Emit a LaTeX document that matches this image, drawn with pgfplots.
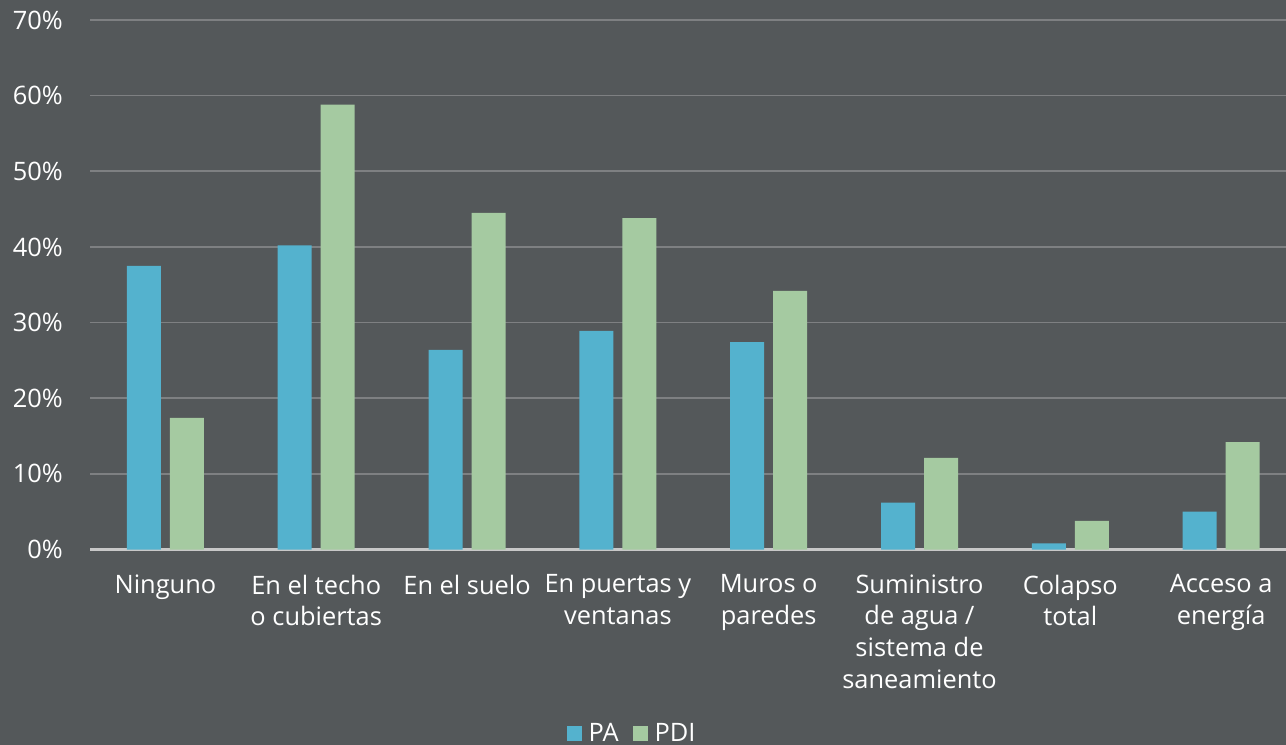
\documentclass[border=0pt]{standalone}
\usepackage{pgfplots}
\pgfplotsset{compat=1.18}
\usepackage{fontspec}
\setmainfont{Open Sans}
\definecolor{bg}{RGB}{84,88,90}
\definecolor{pablue}{RGB}{84,178,206}
\definecolor{pdigreen}{RGB}{165,202,161}
\definecolor{gridc}{RGB}{126,128,130}
\definecolor{zeroc}{RGB}{200,200,200}
\begin{document}
\begin{tikzpicture}
\fill[bg] (0,0) rectangle (1286bp,745bp);
\begin{axis}[
  at={(90bp,195.5bp)}, anchor=south west,
  scale only axis, width=1196bp, height=529.5bp,
  xmin=-0.5, xmax=7.43, ymin=0, ymax=70,
  axis line style={draw=none},
  major tick length=0pt, tick style={draw=none},
  ymajorgrids, grid style={gridc, line width=1.6bp},
  ytick={0,10,20,30,40,50,60,70},
  yticklabels={0\%,10\%,20\%,30\%,40\%,50\%,60\%,70\%},
  yticklabel style={font=\fontsize{25.5}{30}\selectfont, text=white, inner sep=0pt, xshift=-27bp},
  xtick={0,1,2,3,4,5,6,7},
  xticklabels={Ninguno, En el techo\\o cubiertas, En el suelo, En puertas y\\ventanas, Muros o\\paredes, Suministro\\de agua /\\sistema de\\saneamiento, Colapso\\total, Acceso a\\energía},
  xticklabel style={font=\fontsize{25.5}{31.7}\selectfont, text=white, align=center, inner sep=0pt, anchor=north, yshift=-25bp},
  extra y ticks={0}, extra y tick labels={},
  extra y tick style={grid style={zeroc, line width=2bp}},
  ybar, bar width=34bp,
  legend style={at={(axis description cs:0.4532,-0.3466)}, anchor=center, draw=none, fill=none, text=white, legend columns=2, font=\fontsize{25.5}{30}\selectfont,
    /tikz/every odd column/.append style={column sep=5bp},
    /tikz/every even column/.append style={column sep=12bp}},
  legend image code/.code={\fill[#1] (0bp,-7.5bp) rectangle (15bp,7.5bp);},
]
\addplot[fill=pablue, draw=none, bar shift=-21.5bp] coordinates {(0,37.5) (1,40.2) (2,26.4) (3,28.9) (4,27.4) (5,6.2) (6,0.8) (7,5.0)};
\addlegendentry{PA}
\addplot[fill=pdigreen, draw=none, bar shift=21.5bp] coordinates {(0,17.4) (1,58.8) (2,44.5) (3,43.8) (4,34.2) (5,12.1) (6,3.8) (7,14.2)};
\addlegendentry{PDI}
\end{axis}
\pgfresetboundingbox
\useasboundingbox (0,0) rectangle (1286bp,745bp);
\end{tikzpicture}
\end{document}
